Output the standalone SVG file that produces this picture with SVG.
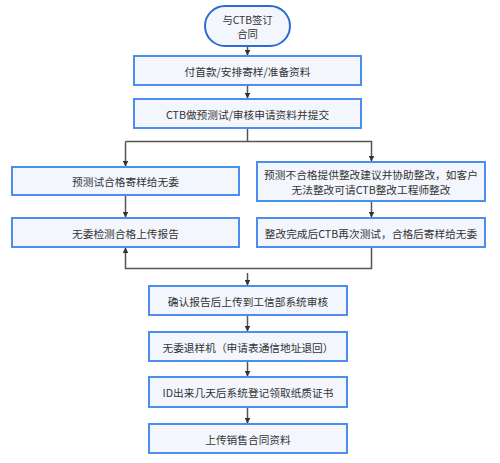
<svg xmlns="http://www.w3.org/2000/svg" width="500" height="463" viewBox="0 0 500 463">
<style>
.box{fill:#f3f6fc;stroke:#4b8ef0;stroke-width:2}
.term{fill:#f3f6fc;stroke:#2e6ad4;stroke-width:2}
text{font-family:"Noto Sans CJK SC","Liberation Sans",sans-serif;font-size:10.7px;fill:#333;text-anchor:middle;dominant-baseline:central}
.t2{font-size:10.3px}
.ln{fill:none;stroke:#555;stroke-width:1.5}
</style>
<defs>
<marker id="ah" viewBox="0 0 10 10" refX="9" refY="5" markerWidth="6" markerHeight="6" orient="auto" markerUnits="userSpaceOnUse">
<path d="M0,0 L10,5 L0,10 z" fill="#333"/>
</marker>
</defs>
<rect width="500" height="463" fill="#fff"/>
<g id="connectors">
<path class="ln" d="M247.5,47 V55" marker-end="url(#ah)"/>
<path class="ln" d="M247.5,85 V98" marker-end="url(#ah)"/>
<path class="ln" d="M247.5,128 V141"/>
<path class="ln" d="M125.5,141.5 H371.5 V161" marker-end="url(#ah)"/>
<path class="ln" d="M125.5,141.5 V166" marker-end="url(#ah)"/>
<path class="ln" d="M125.5,195 V217" marker-end="url(#ah)"/>
<path class="ln" d="M371.5,201 V217" marker-end="url(#ah)"/>
<path class="ln" d="M371.5,247 V268.5 H125.5 V248" marker-end="url(#ah)"/>
<path class="ln" d="M247.5,273 V285" marker-end="url(#ah)"/>
<path class="ln" d="M247.5,315 V331" marker-end="url(#ah)"/>
<path class="ln" d="M247.5,361 V376" marker-end="url(#ah)"/>
<path class="ln" d="M247.5,407 V423" marker-end="url(#ah)"/>
</g>
<g id="n1"><rect class="term" x="205" y="6" width="85" height="40" rx="20"/><text class="t2" x="247.5" y="19.5">与CTB签订</text><text class="t2" x="247.5" y="33.5">合同</text></g>
<g id="n2"><rect class="box" x="134" y="56" width="227" height="29"/><text x="247.5" y="71">付首款/安排寄样/准备资料</text></g>
<g id="n3"><rect class="box" x="134" y="99" width="227" height="29"/><text x="247.5" y="114">CTB做预测试/审核申请资料并提交</text></g>
<g id="n4"><rect class="box" x="12" y="167" width="227" height="28"/><text x="125.5" y="181">预测试合格寄样给无委</text></g>
<g id="n5"><rect class="box" x="257" y="162" width="228" height="39"/><text x="371" y="174">预测不合格提供整改建议并协助整改，如客户</text><text x="371" y="189">无法整改可请CTB整改工程师整改</text></g>
<g id="n6"><rect class="box" x="12" y="218" width="227" height="29"/><text x="125.5" y="233">无委检测合格上传报告</text></g>
<g id="n7"><rect class="box" x="257" y="218" width="228" height="29"/><text x="371" y="233">整改完成后CTB再次测试，合格后寄样给无委</text></g>
<g id="n8"><rect class="box" x="149" y="286" width="198" height="29"/><text x="248" y="301">确认报告后上传到工信部系统审核</text></g>
<g id="n9"><rect class="box" x="149" y="332" width="198" height="29"/><text x="248" y="347">无委退样机（申请表通信地址退回）</text></g>
<g id="n10"><rect class="box" x="149" y="377" width="198" height="30"/><text x="248" y="392">ID出来几天后系统登记领取纸质证书</text></g>
<g id="n11"><rect class="box" x="149" y="424" width="198" height="29"/><text x="248" y="439">上传销售合同资料</text></g>
</svg>
